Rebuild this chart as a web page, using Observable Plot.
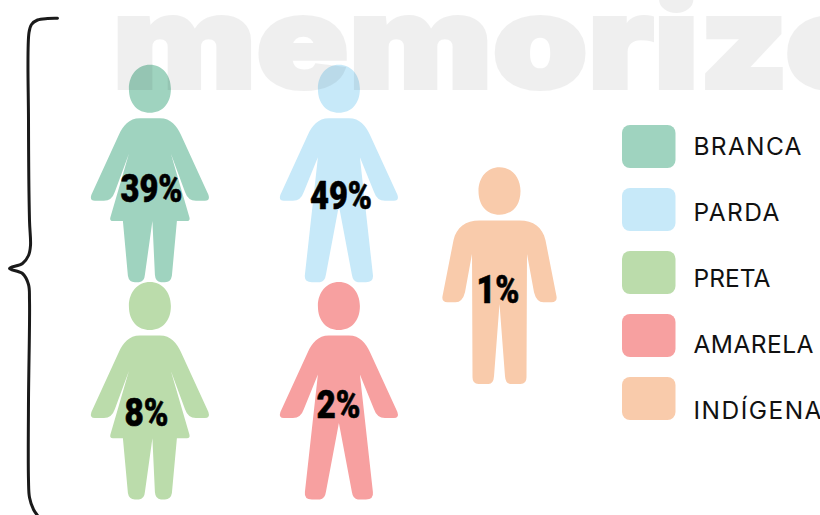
<!DOCTYPE html>
<html>
<head>
<meta charset="utf-8">
<style>html,body{margin:0;padding:0;background:#fff;overflow:hidden}svg{display:block}</style>
<script src="https://cdn.jsdelivr.net/npm/d3@7"></script>
<script src="https://cdn.jsdelivr.net/npm/@observablehq/plot@0.6"></script>
</head>
<body>
<div id="chart"></div>
<script>
const categories = ["BRANCA", "PARDA", "PRETA", "AMARELA", "INDÍGENA"];
const shares = [39, 49, 8, 2, 1];
const colors = ["#9fd3bf", "#c7e9f9", "#bbdcab", "#f7a0a0", "#f9cbab"];
const watermark = "memorize";

// layout, kept apart from the values
const shapeOf = ["woman", "man", "woman", "man", "tall"];
const figureX = [149.4, 338.4, 149.4, 338.4, 499];
const figureY = [64.3, 64.3, 281.5, 281.5, 166.7];
const labelX = [151, 340.5, 146, 338, 497.5];
const labelY = [189, 196, 413, 405, 290];
const labelWidth = [62, 62, 44, 44, 43];
const swatchY = [125, 188, 251, 314, 377];
const legendTextY = [147, 213, 279, 345, 411];
const legendTextWidth = [108, 86, 77, 120, 128];
const braceX = [57, 47, 37, 31, 28.5, 28, 29, 30, 28, 22, 9, 22, 28, 29, 28, 28, 29, 33, 37];
const braceY = [17.8, 18, 19.5, 24, 32, 120, 220, 245, 255, 263, 268, 273, 284, 300, 400, 480, 497, 509, 515];

function head(c, hw, hh) {
  const k = 0.58;
  c.moveTo(0, 0);
  c.bezierCurveTo(k * hw, 0, hw, hh * 0.5 - k * hh * 0.5, hw, hh * 0.5);
  c.bezierCurveTo(hw, hh * 0.5 + k * hh * 0.55, k * hw, hh, 0, hh);
  c.bezierCurveTo(-k * hw, hh, -hw, hh * 0.5 + k * hh * 0.55, -hw, hh * 0.5);
  c.bezierCurveTo(-hw, hh * 0.5 - k * hh * 0.5, -k * hw, 0, 0, 0);
  c.closePath();
}
const personSymbol = (headHeight, halfPath) => ({
  draw(c) {
    head(c, 21, headHeight);
    halfPath(c);
    c.closePath();
  }
});
function womanBody(c) {
  const side = (s) => [
    ["M", 0, 53.4], ["L", s * 10, 53.4],
    ["C", s * 21, 53.4, s * 27, 61, s * 31, 70],
    ["L", s * 58.5, 130], ["Q", s * 60.5, 136, s * 55, 136],
    ["L", s * 46, 136], ["Q", s * 38, 136, s * 35, 127],
    ["L", s * 21, 89], ["L", s * 39.5, 152.5], ["Q", s * 40.5, 156.3, s * 37, 156.3],
    ["L", s * 27, 156.3], ["L", s * 22, 211], ["Q", s * 21, 217.4, s * 15, 217.4],
    ["L", s * 11, 217.4], ["Q", s * 5.5, 217, s * 5, 210], ["L", s * 2.5, 156.3]
  ];
  trace(c, side(1));
  trace(c, side(-1).reverse(), true);
}
function manBody(c) {
  const side = (s) => [
    ["M", 0, 53.4], ["L", s * 10, 53.4],
    ["C", s * 21, 53.4, s * 27, 61, s * 31, 70],
    ["L", s * 58.5, 130], ["Q", s * 60.5, 136, s * 55, 136],
    ["L", s * 46, 136], ["Q", s * 38, 136, s * 35, 127],
    ["L", s * 21, 92.5], ["L", s * 34, 210], ["Q", s * 35, 217.4, s * 27, 217.4],
    ["L", s * 19, 217.4], ["Q", s * 14, 217, s * 13, 210], ["L", 0, 141]
  ];
  trace(c, side(1));
  trace(c, side(-1).reverse(), true);
}
function tallBody(c) {
  const side = (s) => [
    ["M", 0, 53.3], ["L", s * 20, 53.3],
    ["C", s * 34, 53.3, s * 43, 60, s * 46, 73],
    ["L", s * 57, 129], ["Q", s * 58, 135, s * 52, 135],
    ["L", s * 44, 135], ["Q", s * 37, 135, s * 34.5, 125],
    ["L", s * 27.5, 86.7], ["L", s * 27, 210], ["Q", s * 27, 216.7, s * 21, 216.7],
    ["L", s * 11, 216.7], ["Q", s * 6, 216.5, s * 5.5, 209], ["L", 0, 136.7]
  ];
  trace(c, side(1));
  trace(c, side(-1).reverse(), true);
}
function trace(c, cmds, backward) {
  if (!backward) {
    for (const p of cmds) {
      if (p[0] === "M") c.moveTo(p[1], p[2]);
      else if (p[0] === "L") c.lineTo(p[1], p[2]);
      else if (p[0] === "Q") c.quadraticCurveTo(p[1], p[2], p[3], p[4]);
      else c.bezierCurveTo(p[1], p[2], p[3], p[4], p[5], p[6]);
    }
    return;
  }
  for (let i = 0; i < cmds.length - 1; i++) {
    const p = cmds[i], next = cmds[i + 1];
    const end = next.slice(-2);
    if (p[0] === "L") c.lineTo(end[0], end[1]);
    else if (p[0] === "Q") c.quadraticCurveTo(p[1], p[2], end[0], end[1]);
    else if (p[0] === "C") c.bezierCurveTo(p[3], p[4], p[1], p[2], end[0], end[1]);
  }
}
const symbols = {
  woman: personSymbol(48, womanBody),
  man: personSymbol(48, manBody),
  tall: personSymbol(47.5, tallBody)
};

const rows = categories.map((category, i) => ({
  category, share: shares[i], label: `${shares[i]}%`, shape: shapeOf[i],
  fx: figureX[i], fy: figureY[i], lx: labelX[i], ly: labelY[i], lw: labelWidth[i],
  sy: swatchY[i], ty: legendTextY[i]
}));
const brace = braceX.map((x, i) => ({x, y: braceY[i]}));

const figureMarks = Object.keys(symbols).map((k) =>
  Plot.dot(rows.filter((d) => d.shape === k), {
    x: "fx", y: "fy", fill: "category", stroke: "none", r: 4, symbol: symbols[k]
  })
);

const plot = Plot.plot({
  width: 820, height: 515,
  marginTop: 0, marginRight: 0, marginBottom: 0, marginLeft: 0,
  x: {domain: [0, 820], range: [0, 820], axis: null},
  y: {domain: [0, 515], range: [0, 515], axis: null},
  color: {domain: categories, range: colors},
  style: {background: "#fff", overflow: "hidden"},
  marks: [
    ...figureMarks,
    Plot.text([watermark], {
      x: 112, y: 47, text: (d) => d, textAnchor: "start", className: "wm",
      fill: "#000", stroke: "#000", strokeWidth: 4, strokeLinejoin: "miter", opacity: 0.06,
      fontFamily: "Inter", fontWeight: 900, fontSize: 128
    }),
    Plot.line(brace, {x: "x", y: "y", curve: "catmull-rom", stroke: "#1a1a1a", strokeWidth: 3, strokeLinecap: "round"}),
    Plot.text(rows, {
      x: "lx", y: "ly", text: "label", fill: "#000", stroke: "#000", strokeWidth: 0.6, className: "pct",
      fontFamily: "Roboto", fontWeight: 900, fontSize: 39, textAnchor: "middle"
    }),
    Plot.rect(rows, {
      x1: () => 622, x2: () => 675.5, y1: "sy", y2: (d) => d.sy + 43, fill: "category", rx: 8
    }),
    Plot.text(rows, {
      x: () => 693, y: "ty", text: "category", fill: "#111", textAnchor: "start", className: "leg",
      fontFamily: "Inter", fontSize: 24.5
    })
  ]
});
document.getElementById("chart").append(plot);

// fit the stand-in fonts to the reference's text widths
plot.querySelectorAll(".pct text").forEach((t) => {
  t.setAttribute("textLength", labelWidth[rows.findIndex((r) => r.label === t.textContent)]);
  t.setAttribute("lengthAdjust", "spacingAndGlyphs");
});
plot.querySelectorAll(".leg text").forEach((t) => {
  t.setAttribute("textLength", legendTextWidth[categories.indexOf(t.textContent)]);
  t.setAttribute("lengthAdjust", "spacing");
});
plot.querySelectorAll(".wm text").forEach((t) => {
  t.setAttribute("textLength", 765);
  t.setAttribute("lengthAdjust", "spacingAndGlyphs");
});
</script>
</body>
</html>
